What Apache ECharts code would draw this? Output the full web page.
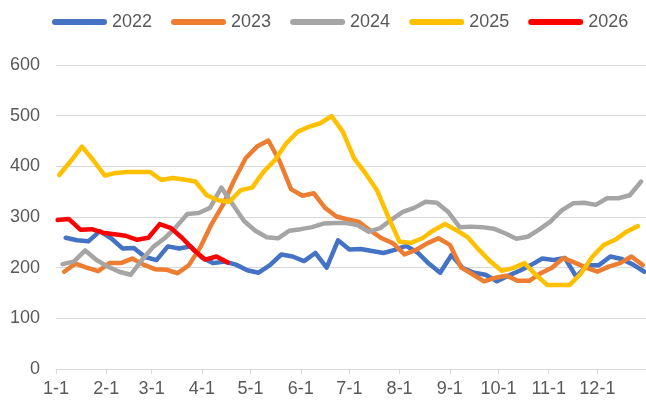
<!DOCTYPE html>
<html>
<head>
<meta charset="utf-8">
<script src="https://cdn.jsdelivr.net/npm/echarts@6/dist/echarts.min.js"></script>
<style>
  html, body { margin: 0; padding: 0; background: #fff; }
  #chart { width: 646px; height: 403px; }
</style>
</head>
<body>
<div id="chart"></div>
<script>
// Weekly readings (every Friday), one array per year
const years = ['2022', '2023', '2024', '2025', '2026'];
const firstFriday = ['2022-01-07', '2023-01-06', '2024-01-05', '2025-01-03', '2026-01-02'];

const values2022 = [259,254,252,272,258,238,239,221,215,242,238,242,220,209,212,206,195,190,205,226,222,213,229,200,254,236,237,233,229,235,243,230,208,190,225,199,190,186,173,184,194,205,218,215,219,182,205,205,222,217,206,192];
const values2023 = [192,208,200,193,209,209,218,206,197,196,189,205,240,286,324,373,416,439,451,410,355,342,347,318,301,295,290,273,258,248,226,235,248,258,245,200,187,173,180,184,174,174,189,200,219,210,200,192,202,209,222,205];
const values2024 = [207,212,234,215,202,192,186,215,241,258,280,306,308,318,358,325,292,273,260,258,273,276,280,287,288,288,284,271,278,295,310,318,330,328,310,280,281,280,277,268,257,261,275,291,313,327,328,324,337,337,343,370];
const values2025 = [383,410,439,412,382,387,389,389,389,373,377,374,370,343,333,330,353,358,389,412,445,468,478,485,499,468,415,386,353,300,251,249,258,274,286,274,260,235,212,194,199,209,186,166,166,166,189,222,245,255,271,282];
const values2026 = [294,296,275,276,269,266,263,255,259,286,278,258,235,216,222,210];

// Month-start tick labels and their day-of-year positions
const monthLabels = ['1-1','2-1','3-1','4-1','5-1','6-1','7-1','8-1','9-1','10-1','11-1','12-1'];
const monthStartDays = [0,31,59,90,120,151,181,212,243,273,304,334];

const colors = ['#4472C4', '#ED7D31', '#A5A5A5', '#FFC000', '#FF0000'];
const allValues = [values2022, values2023, values2024, values2025, values2026];

const DAY = 86400000;
function dayOfYear(d) {
  return Math.round((d - Date.UTC(d.getUTCFullYear(), 0, 1)) / DAY);
}
function weeklyPoints(startStr, vals) {
  const start = new Date(startStr + 'T00:00:00Z');
  return vals.map((v, i) => {
    const d = new Date(start.getTime() + i * 7 * DAY);
    return [dayOfYear(d), v];
  });
}

const textColor = '#595959';
const gridColor = '#D9D9D9';
const legendIcon = 'path://M3,0 L52,0 A3,3 0 0 1 52,6 L3,6 A3,3 0 0 1 3,0 Z';

const series = years.map((y, i) => ({
  name: y,
  type: 'line',
  data: weeklyPoints(firstFriday[i], allValues[i]),
  showSymbol: false,
  symbol: 'none',
  smooth: false,
  color: colors[i],
  lineStyle: { width: 4.5, color: colors[i], cap: 'round', join: 'round' },
  emphasis: { disabled: true }
}));

const chart = echarts.init(document.getElementById('chart'), null, { renderer: 'canvas' });
chart.setOption({
  animation: false,
  backgroundColor: '#ffffff',
  textStyle: { fontFamily: 'Liberation Sans, Arial, sans-serif' },
  legend: {
    left: 47,
    top: 8,
    itemWidth: 55,
    itemHeight: 6,
    itemGap: 19,
    icon: legendIcon,
    textStyle: { color: textColor, fontSize: 18, fontFamily: 'Liberation Sans, Arial, sans-serif' },
    data: years.map((y, i) => ({ name: y, icon: legendIcon, itemStyle: { color: colors[i] } }))
  },
  grid: { left: 56, right: 0, top: 65, bottom: 34, containLabel: false },
  xAxis: {
    type: 'value',
    min: 0,
    max: 364,
    splitLine: { show: false },
    axisLine: { show: true, lineStyle: { color: gridColor, width: 1 } },
    axisTick: { show: true, length: 5, lineStyle: { color: gridColor }, customValues: monthStartDays },
    axisLabel: {
      customValues: monthStartDays,
      color: textColor,
      fontSize: 18,
      margin: 11,
      formatter: v => monthLabels[monthStartDays.indexOf(Math.round(v))] || ''
    }
  },
  yAxis: {
    type: 'value',
    min: 0,
    max: 600,
    interval: 100,
    axisLine: { show: false },
    axisTick: { show: false },
    splitLine: { lineStyle: { color: gridColor, width: 1 } },
    axisLabel: { color: textColor, fontSize: 18, margin: 16 }
  },
  series: series
});
</script>
</body>
</html>
